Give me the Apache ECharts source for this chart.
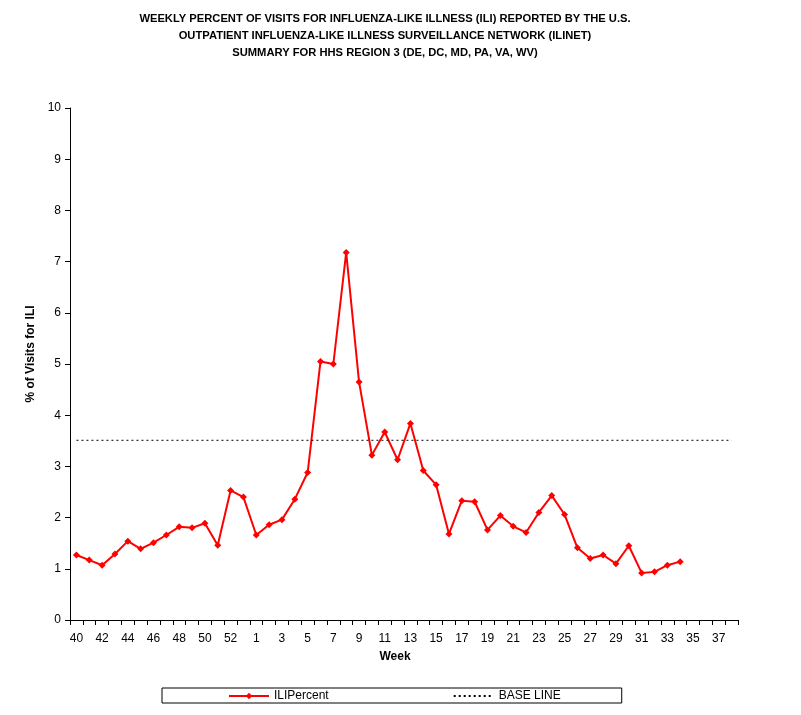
<!DOCTYPE html>
<html>
<head>
<meta charset="utf-8">
<script src="https://cdn.jsdelivr.net/npm/echarts@6/dist/echarts.min.js"></script>
<style>
  html, body { margin: 0; padding: 0; background: #fff; }
  #main { width: 801px; height: 715px; }
</style>
</head>
<body>
<div id="main"></div>
<script>
// weeks of the season: 40..53 then 1..38
var weeks = ['40','41','42','43','44','45','46','47','48','49','50','51','52','53',
  '1','2','3','4','5','6','7','8','9','10','11','12','13','14','15','16','17','18','19',
  '20','21','22','23','24','25','26','27','28','29','30','31','32','33','34','35','36','37','38'];

// % of visits for ILI (no data after week 34)
var iliPercent = [1.27, 1.17, 1.07, 1.29, 1.54, 1.39, 1.51, 1.66, 1.82, 1.80, 1.89, 1.46, 2.53, 2.40,
  1.66, 1.86, 1.96, 2.36, 2.88, 5.05, 5.00, 7.18, 4.65, 3.22, 3.67, 3.13, 3.84, 2.92, 2.64, 1.68,
  2.33, 2.31, 1.76, 2.04, 1.83, 1.71, 2.10, 2.43, 2.06, 1.41, 1.20, 1.27, 1.10, 1.45, 0.92, 0.94,
  1.07, 1.14, null, null, null, null];

var baseLineValue = 3.51;
var baseLine = [['40', baseLineValue], ['38', baseLineValue]];

var yTicks = [0, 10, 1]; // min, max, interval

var font = 'Arial, "Liberation Sans", sans-serif';

var myChart = echarts.init(document.getElementById('main'));
var option = {
    animation: false,
    backgroundColor: '#fff',
    title: {
        text: 'WEEKLY PERCENT OF VISITS FOR INFLUENZA-LIKE ILLNESS (ILI) REPORTED BY THE U.S.\nOUTPATIENT INFLUENZA-LIKE ILLNESS SURVEILLANCE NETWORK (ILINET)\nSUMMARY FOR HHS REGION 3 (DE, DC, MD, PA, VA, WV)',
        left: 380,
        top: 5,
        textAlign: 'center',
        textStyle: {
            fontFamily: font,
            fontSize: 11.2,
            fontWeight: 'bold',
            color: '#000',
            lineHeight: 17
        }
    },
    legend: {
        left: 162,
        top: 688,
        orient: 'horizontal',
        padding: [2, 61, 1, 66],
        itemGap: 124,
        itemWidth: 40,
        itemHeight: 8,
        borderColor: '#000',
        borderWidth: 1,
        borderRadius: 0,
        textStyle: { fontFamily: font, fontSize: 12, color: '#000' },
        data: [
            { name: 'ILIPercent' },
            { name: 'BASE LINE', itemStyle: { color: 'rgba(0,0,0,0)', borderWidth: 0 } }
        ]
    },
    grid: { left: 70, right: 63, top: 108, bottom: 95 },
    xAxis: {
        type: 'category',
        data: weeks,
        boundaryGap: true,
        name: 'Week',
        nameLocation: 'middle',
        nameGap: 31,
        nameTextStyle: { fontFamily: font, fontSize: 12, fontWeight: 'bold', color: '#000', padding: [0, 18, 0, 0] },
        axisLine: { lineStyle: { color: '#000', width: 1 } },
        axisTick: { show: true, interval: 0, length: 5, lineStyle: { color: '#000' } },
        axisLabel: { interval: 0, fontFamily: font, fontSize: 12, color: '#000', margin: 13,
            // the chart labels every other week, skipping week 53
            formatter: function (v, i) { return (i < 13 ? i % 2 === 0 : i >= 14 && i % 2 === 0) ? v : ''; } },
        splitLine: { show: false }
    },
    yAxis: {
        type: 'value',
        min: yTicks[0],
        max: yTicks[1],
        interval: yTicks[2],
        name: '% of Visits for ILI',
        nameLocation: 'middle',
        nameGap: 25,
        nameTextStyle: { fontFamily: font, fontSize: 12, fontWeight: 'bold', color: '#000', padding: [0, 0, 0, 20] },
        axisLine: { show: true, lineStyle: { color: '#000', width: 1 } },
        axisTick: { show: true, length: 5, lineStyle: { color: '#000' } },
        axisLabel: { fontFamily: font, fontSize: 12, color: '#000', margin: 9 },
        splitLine: { show: false }
    },
    series: [
        {
            name: 'ILIPercent',
            type: 'line',
            data: iliPercent,
            symbol: 'diamond',
            symbolSize: 7,
            connectNulls: false,
            lineStyle: { color: '#ff0000', width: 2 },
            itemStyle: { color: '#ff0000' }
        },
        {
            name: 'BASE LINE',
            type: 'line',
            data: baseLine,
            symbol: 'none',
            lineStyle: { color: '#000', width: 1, type: [2, 3] },
            itemStyle: { color: '#000' }
        }
    ]
};
myChart.setOption(option);
</script>
</body>
</html>
